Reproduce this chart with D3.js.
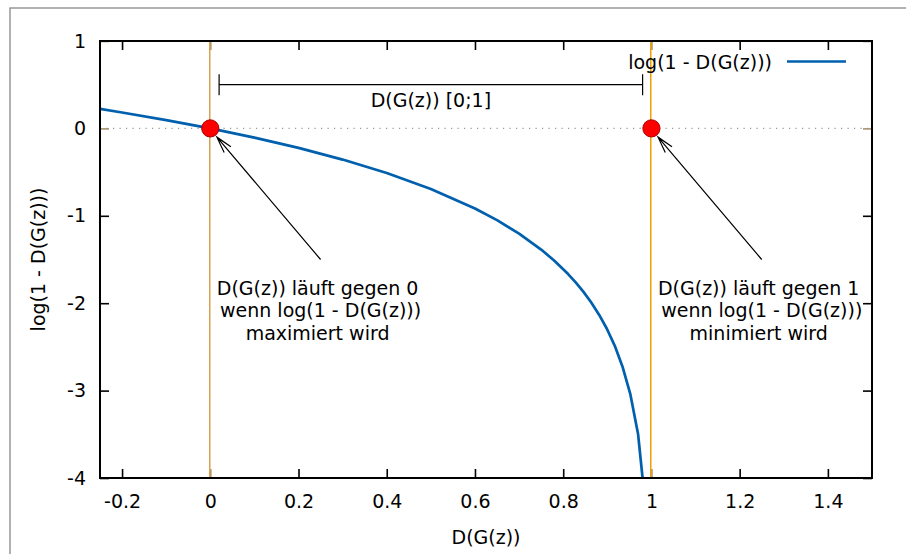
<!DOCTYPE html>
<html>
<head>
<meta charset="utf-8">
<script src="https://cdn.jsdelivr.net/npm/d3@7"></script>
<style>
  body { margin: 0; background: #fff; }
  svg text { font-family: "DejaVu Sans", sans-serif; font-size: 19px; fill: #000; white-space: pre; }
</style>
</head>
<body>
<div id="chart"></div>
<script>
// samples of log(1 - D(G(z)))
const curveX = [-0.25, -0.2, -0.1, 0, 0.1, 0.2, 0.3, 0.4, 0.5, 0.6, 0.65, 0.7, 0.75, 0.78,
  0.8106, 0.8283, 0.846, 0.8636, 0.8813, 0.899, 0.9167, 0.9343, 0.952, 0.9697, 0.9799];
const curveY = [0.2231, 0.1823, 0.0953, 0, -0.1054, -0.2231, -0.3567, -0.5108, -0.6931, -0.9163,
  -1.0498, -1.204, -1.3863, -1.5141, -1.664, -1.762, -1.8705, -1.9924, -2.1312, -2.2925,
  -2.4849, -2.7233, -3.0369, -3.4965, -4];

const xTicks = [-0.2, 0, 0.2, 0.4, 0.6, 0.8, 1, 1.2, 1.4];
const yTicks = [-4, -3, -2, -1, 0, 1];

const limitX = [0, 1];          // vertical lines + red points
const limitY = [0, 0];
const rangeBar = [0.02, 0.98, 0.5];   // x from, x to, y
const arrowFrom = [[0.25, -1.5], [1.25, -1.5]];
const arrowTo = [[0.015, -0.1], [1.015, -0.1]];
const notes = [
  ["D(G(z)) läuft gegen 0", " wenn log(1 - D(G(z)))", "maximiert wird"],
  ["D(G(z)) läuft gegen 1", " wenn log(1 - D(G(z)))", "minimiert wird"]
];

const W = 906, H = 554;
const margin = {top: 41, right: 34, bottom: 76, left: 100};
const width = W - margin.left - margin.right;
const height = H - margin.top - margin.bottom;

const svg = d3.select("#chart").append("svg")
  .attr("width", W)
  .attr("height", H);

// outer frame
svg.append("rect")
  .attr("x", 10).attr("y", 8)
  .attr("width", 1000).attr("height", 1000)
  .attr("fill", "none")
  .attr("stroke", "#888")
  .attr("stroke-width", 1.3);

const g = svg.append("g").attr("transform", `translate(${margin.left},${margin.top})`);

const x = d3.scaleLinear().domain([-0.25, 1.5]).range([0, width]);
const y = d3.scaleLinear().domain([-4, 1]).range([height, 0]);

g.append("defs").append("clipPath").attr("id", "clip")
  .append("rect").attr("width", width).attr("height", height);

// zero axes (dotted)
g.append("line")
  .attr("x1", 0).attr("x2", width)
  .attr("y1", y(0)).attr("y2", y(0))
  .attr("stroke", "#999").attr("stroke-width", 1.2)
  .attr("stroke-dasharray", "1.2,5.3");

// axes
const fmt = d => String(d);
const styleAxis = sel => {
  sel.select(".domain").remove();
  sel.selectAll(".tick line").attr("stroke", "#000").attr("stroke-width", 1.6);
  sel.selectAll(".tick text").style("font-family", "DejaVu Sans").style("font-size", "19px");
};

g.append("g").attr("transform", `translate(0,${height})`)
  .call(d3.axisBottom(x).tickValues(xTicks).tickFormat(fmt).tickSize(-9).tickPadding(17))
  .call(styleAxis);
g.append("g")
  .call(d3.axisTop(x).tickValues(xTicks).tickFormat("").tickSize(-9))
  .call(styleAxis);
g.append("g")
  .call(d3.axisLeft(y).tickValues(yTicks).tickFormat(fmt).tickSize(-9).tickPadding(14))
  .call(styleAxis);
g.append("g").attr("transform", `translate(${width},0)`)
  .call(d3.axisRight(y).tickValues(yTicks).tickFormat("").tickSize(-9))
  .call(styleAxis);

g.selectAll(".tick").filter(d => limitX.includes(d) && xTicks.includes(d))
  .select("line").attr("stroke", "#a89070");

// vertical limit lines
g.selectAll(".limit")
  .data(limitX)
  .join("line")
  .attr("class", "limit")
  .attr("x1", d => Math.round(x(d)) - 0.25).attr("x2", d => Math.round(x(d)) - 0.25)
  .attr("y1", 0).attr("y2", height)
  .attr("stroke", (d, i) => i === 0 ? "#d9a048" : "#f0a000")
  .attr("stroke-width", 1.5);

g.append("line")
  .attr("x1", Math.round(x(0)) - 0.25).attr("x2", Math.round(x(0)) - 0.25)
  .attr("y1", 0).attr("y2", height)
  .attr("stroke", "#bbb").attr("stroke-width", 1)
  .attr("stroke-dasharray", "1.2,5.3")
  .attr("opacity", 0.6);

// range bar
const [bx0, bx1, by] = rangeBar;
g.append("path")
  .attr("d", `M${x(bx0)},${y(by) - 10.5}V${y(by) + 10.5}M${x(bx0)},${y(by)}H${x(bx1)}M${x(bx1)},${y(by) - 10.5}V${y(by) + 10.5}`)
  .attr("fill", "none").attr("stroke", "#000").attr("stroke-width", 1.2);
g.append("text")
  .attr("x", x((bx0 + bx1) / 2)).attr("y", y(by) + 22)
  .attr("text-anchor", "middle")
  .text("D(G(z)) [0;1]");

// curve
const line = d3.line().x(d => x(d[0])).y(d => y(d[1]));
g.append("path")
  .datum(d3.zip(curveX, curveY))
  .attr("clip-path", "url(#clip)")
  .attr("fill", "none")
  .attr("stroke", "#0060ad")
  .attr("stroke-width", 2.7)
  .attr("stroke-linejoin", "round")
  .attr("d", line);

// red points
g.selectAll(".pt")
  .data(d3.zip(limitX, limitY))
  .join("circle")
  .attr("class", "pt")
  .attr("cx", d => x(d[0])).attr("cy", d => y(d[1]))
  .attr("r", 8.6)
  .attr("fill", "#f00")
  .attr("stroke", "#a80000")
  .attr("stroke-width", 1);

// arrows with open heads
arrowFrom.forEach((a, i) => {
  const b = arrowTo[i];
  const x0 = x(a[0]), y0 = y(a[1]), x1 = x(b[0]), y1 = y(b[1]);
  const ang = Math.atan2(y0 - y1, x0 - x1);
  const len = 17, spread = 15 * Math.PI / 180;
  const h1 = [x1 + len * Math.cos(ang + spread), y1 + len * Math.sin(ang + spread)];
  const h2 = [x1 + len * Math.cos(ang - spread), y1 + len * Math.sin(ang - spread)];
  g.append("path")
    .attr("d", `M${x0},${y0}L${x1},${y1}M${h1[0]},${h1[1]}L${x1},${y1}L${h2[0]},${h2[1]}`)
    .attr("fill", "none").attr("stroke", "#000").attr("stroke-width", 1.2);

  const t = g.append("text")
    .attr("text-anchor", "middle");
  notes[i].forEach((s, k) => {
    t.append("tspan")
      .attr("x", x0 - 3)
      .attr("y", y0 + 35 + k * 22.5)
      .text(s);
  });
});

// legend
g.append("text")
  .attr("x", 672).attr("y", 28)
  .attr("text-anchor", "end")
  .text("log(1 - D(G(z)))");
g.append("line")
  .attr("x1", 687).attr("x2", 746)
  .attr("y1", 20.5).attr("y2", 20.5)
  .attr("stroke", "#0060ad").attr("stroke-width", 2.7);

// plot border
g.append("rect")
  .attr("width", width).attr("height", height)
  .attr("fill", "none").attr("stroke", "#000").attr("stroke-width", 2);

// axis titles
svg.append("text")
  .attr("x", margin.left + x(0.625)).attr("y", 544)
  .attr("text-anchor", "middle")
  .text("D(G(z))");
svg.append("text")
  .attr("transform", `translate(45,${margin.top + height / 2}) rotate(-90)`)
  .attr("text-anchor", "middle")
  .text("log(1 - D(G(z)))");
</script>
</body>
</html>
